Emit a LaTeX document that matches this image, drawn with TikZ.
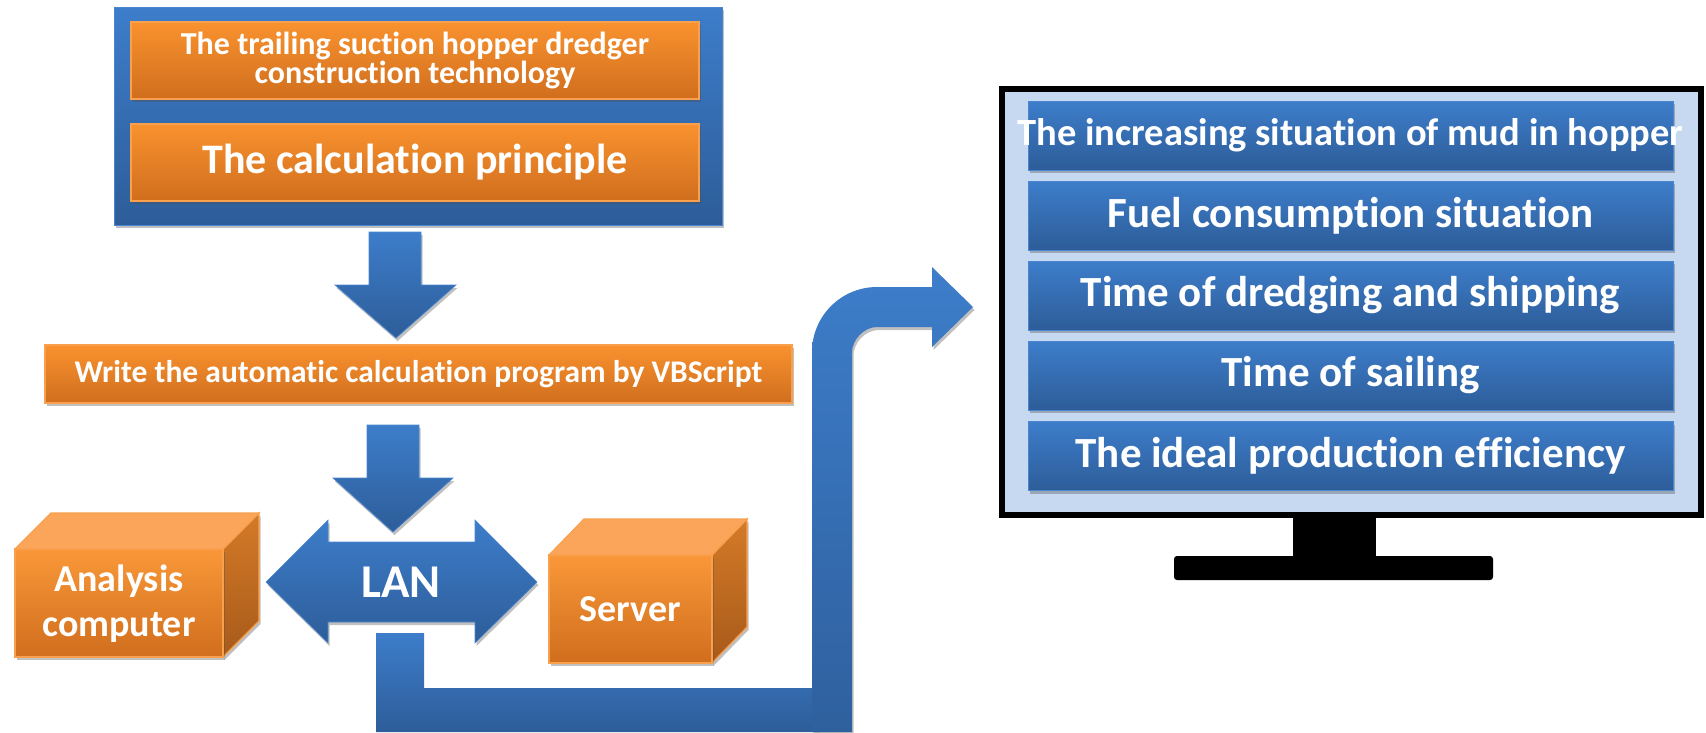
\documentclass[tikz,border=0pt]{standalone}
\usepackage{fontspec}
\setmainfont{Carlito}[Ligatures=NoCommon]
\usetikzlibrary{shadows}
\definecolor{oTop}{HTML}{F9922E}
\definecolor{oBot}{HTML}{D06E1E}
\definecolor{oLine}{HTML}{F9A04E}
\definecolor{bTop}{HTML}{3D7DCA}
\definecolor{bBot}{HTML}{2D5D99}
\definecolor{bLine}{HTML}{4A86CF}
\definecolor{screen}{HTML}{C6D9F1}
\definecolor{cubeTop}{HTML}{FBA55A}
\definecolor{sideTop}{HTML}{D47A28}
\definecolor{sideBot}{HTML}{A85A1A}
\begin{document}
\begin{tikzpicture}[x=1pt,y=-1pt,
  shadowed/.style={drop shadow={shadow xshift=1.5pt,shadow yshift=-3pt,opacity=0.35,fill=black!70}},
  obox/.style={rectangle,inner sep=0pt,top color=oTop,bottom color=oBot,draw=oLine,line width=1.2pt,shadowed,text=white,font=\bfseries,align=center},
  bbox/.style={rectangle,inner sep=0pt,top color=bTop,bottom color=bBot,draw=bLine,line width=0.8pt,shadowed,text=white,font=\bfseries,align=center},
  barrow/.style={top color=bTop,bottom color=bBot,draw=bLine,line width=0.6pt},
  cubefront/.style={top color=oTop!95!white,bottom color=oBot,draw=oLine,line width=1.2pt},
  cubetop/.style={fill=cubeTop,draw=oLine,line width=1.2pt},
  cubeside/.style={top color=sideTop,bottom color=sideBot,draw=oLine,line width=1.2pt},
  lbl/.style={text=white,font=\bfseries,align=center,inner sep=0pt}
]
\useasboundingbox (0,0) rectangle (1706,732);
\fill[white] (0,0) rectangle (1706,732);

% L-shaped connector from LAN to the bent arrow
\path[barrow,draw=none] (376,633) -- (424,633) -- (424,688) -- (820,688) -- (820,732) -- (376,732) -- cycle;
% bent arrow to monitor
\path[top color=bTop,bottom color=bBot!90!bTop,shadowed]
  (812,732) -- (812,352) .. controls (812,316.1) and (841.1,287) .. (877,287)
  -- (932,287) -- (932,267) -- (973,307) -- (932,347) -- (932,327) -- (877,327)
  .. controls (863.2,327) and (852,340.8) .. (852,352) -- (852,732) -- cycle;

% top container
\node[bbox,minimum width=608pt,minimum height=218pt] (top) at (418,116) {};
\node[obox,minimum width=568pt,minimum height=77pt,font=\bfseries\fontsize{32}{29}\selectfont] (tech) at (415,60.5)
  {The trailing suction hopper dredger\\construction technology};
\node[obox,minimum width=568pt,minimum height=77pt,font=\bfseries\fontsize{42}{44}\selectfont] (princ) at (415,162.5)
  {The calculation principle};

% arrow 1
\path[barrow,shadowed] (369,232) -- (421,232) -- (421,285) -- (456,285) -- (396,338) -- (335,285) -- (369,285) -- cycle;

% VBScript box
\node[obox,minimum width=747pt,minimum height=58pt,font=\bfseries\fontsize{31.5}{33}\selectfont] (vbs) at (418.5,374)
  {Write the automatic calculation program by VBScript};

% arrow 2
\path[barrow,shadowed] (367,425) -- (419,425) -- (419,478) -- (453,478) -- (393,532) -- (333,478) -- (367,478) -- cycle;

% LAN double arrow
\path[barrow,shadowed] (266,582) -- (328,520) -- (328,542) -- (475,542) -- (475,520) -- (537,582)
  -- (475,643) -- (475,622) -- (328,622) -- (328,643) -- cycle;
\node[lbl,font=\bfseries\fontsize{47}{49}\selectfont] (lan) at (401,582) {LAN};

% Analysis computer cube
\path[cubeside,shadowed] (223,549) -- (259,513) -- (259,621) -- (223,657) -- cycle;
\path[cubefront,shadowed] (15,549) rectangle (223,657);
\path[cubetop] (15,549) -- (51,513) -- (259,513) -- (223,549) -- cycle;
\node[lbl,font=\bfseries\fontsize{38}{45}\selectfont] (pc) at (119,604) {Analysis\\computer};

% Server cube
\path[cubeside,shadowed] (712,555) -- (747,519) -- (747,627) -- (712,663) -- cycle;
\path[cubefront,shadowed] (549,555) rectangle (712,663);
\path[cubetop] (549,555) -- (584,519) -- (747,519) -- (712,555) -- cycle;
\node[lbl,font=\bfseries\fontsize{38}{40}\selectfont] (srv) at (630.5,609) {Server};

% monitor
\fill[black] (1293,515) rectangle (1376,560);
\fill[black,rounded corners=3pt] (1174,556) rectangle (1493,580);
\node[draw=black,line width=6pt,fill=screen,minimum width=699pt,minimum height=426pt,inner sep=0pt] (monitor) at (1351.5,302) {};
\node[bbox,minimum width=645pt,minimum height=69pt,font=\bfseries\fontsize{38.5}{40}\selectfont] (r1) at (1350.5,135.5) {\makebox[0pt]{The increasing situation of mud in hopper}};
\foreach \yy/\nm/\txt in {215.5/r2/Fuel consumption situation,
  295.5/r3/Time of dredging and shipping,
  375.5/r4/Time of sailing,
  456/r5/The ideal production efficiency}{
  \node[bbox,minimum width=645pt,minimum height=69pt,font=\bfseries\fontsize{43}{45}\selectfont] (\nm) at (1350.5,\yy) {\txt};
}
\end{tikzpicture}
\end{document}
